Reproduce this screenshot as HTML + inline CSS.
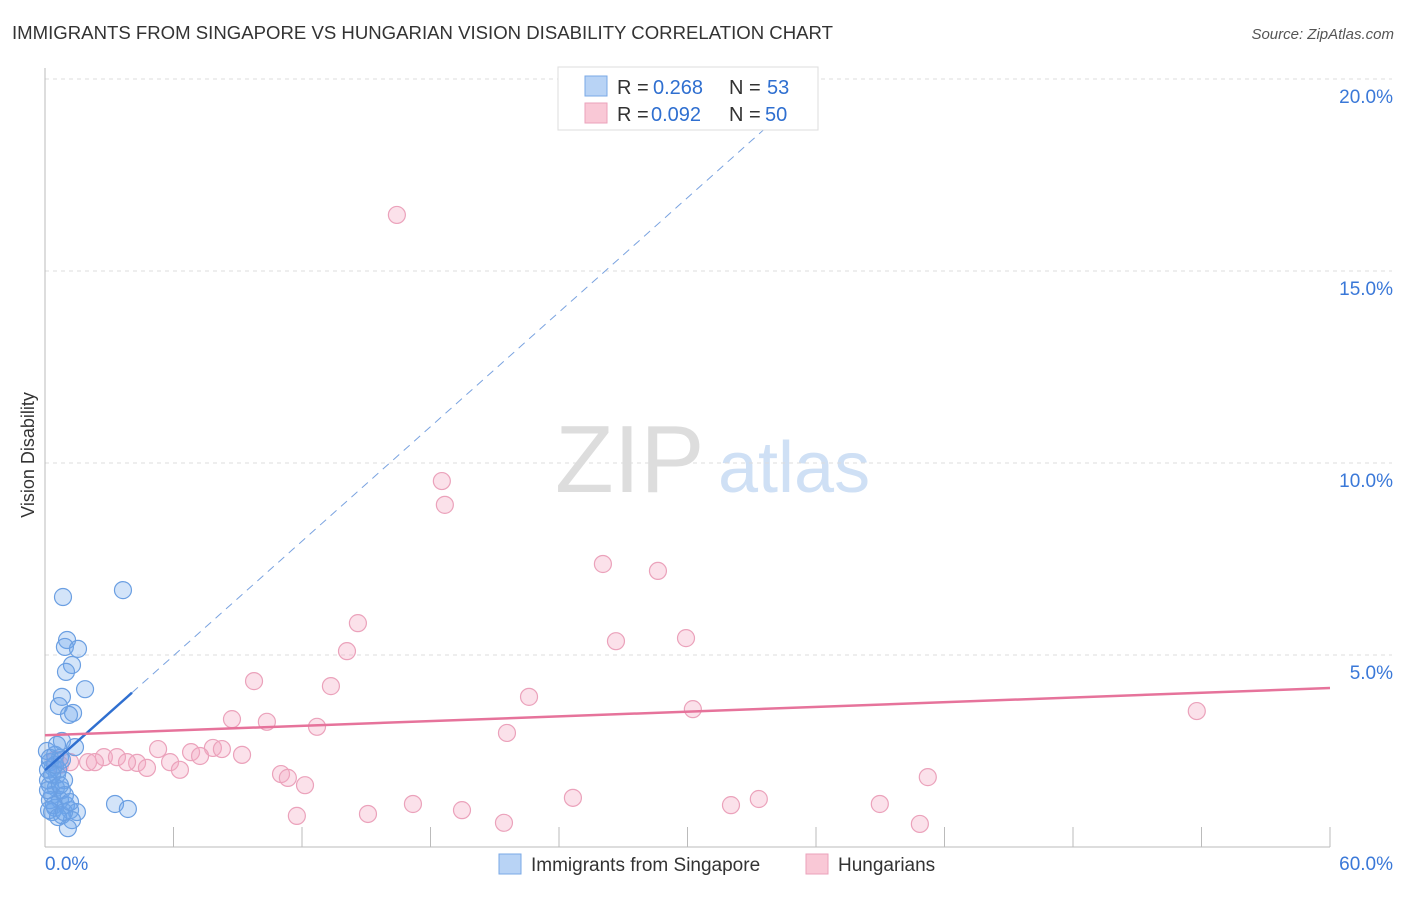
<!DOCTYPE html>
<html><head><meta charset="utf-8"><style>
body{margin:0;background:#fff;font-family:"Liberation Sans",sans-serif;}
svg text{font-family:"Liberation Sans",sans-serif;}
</style></head><body>
<svg width="1406" height="892" xmlns="http://www.w3.org/2000/svg">
<text x="12" y="39" font-size="18" fill="#333" textLength="821" lengthAdjust="spacingAndGlyphs">IMMIGRANTS FROM SINGAPORE VS HUNGARIAN VISION DISABILITY CORRELATION CHART</text>
<text x="1394" y="39" font-size="15" fill="#555" text-anchor="end" font-style="italic">Source: ZipAtlas.com</text>
<text x="555" y="492" font-size="96" fill="#ddd" font-family="Liberation Serif">ZIP</text>
<text x="718" y="492" font-size="72" fill="#cfe0f5">atlas</text>
<text transform="translate(34,455) rotate(-90)" font-size="18" fill="#333" text-anchor="middle">Vision Disability</text>
<g id="grid"></g>
<g id="axes"></g>
<g id="marks"></g>
<g>
<rect x="558" y="67" width="260" height="63" fill="#fff" stroke="#ddd"/>
<rect x="585" y="76" width="22" height="20" fill="#b8d3f5" stroke="#7aa8e6"/>
<rect x="585" y="103" width="22" height="20" fill="#f9c8d6" stroke="#eba2bb"/>
<text y="94" font-size="20" fill="#333"><tspan x="617">R =</tspan><tspan x="653" fill="#2f6fd0">0.268</tspan><tspan x="729">N =</tspan><tspan x="767" fill="#2f6fd0">53</tspan></text>
<text y="121" font-size="20" fill="#333"><tspan x="617">R =</tspan><tspan x="651" fill="#2f6fd0">0.092</tspan><tspan x="729">N =</tspan><tspan x="765" fill="#2f6fd0">50</tspan></text>
</g>
<g>
<rect x="499" y="854" width="22" height="20" fill="#b8d3f5" stroke="#7aa8e6"/>
<text x="531" y="871" font-size="19" fill="#333">Immigrants from Singapore</text>
<rect x="806" y="854" width="22" height="20" fill="#f9c8d6" stroke="#eba2bb"/>
<text x="838" y="871" font-size="19" fill="#333">Hungarians</text>
</g>
</svg>
<script>
const blueX=[0.84,3.64,1.03,0.93,1.54,1.26,0.98,1.87,0.79,0.65,1.31,1.12,0.79,1.40,0.09,0.47,0.70,0.23,0.37,0.14,0.56,0.89,0.23,0.51,0.79,0.33,0.70,0.98,0.47,1.17,1.49,0.33,0.79,1.26,1.07,3.27,3.87,0.14,0.23,0.61,0.33,0.47,0.14,0.70,0.93,0.23,0.56,0.79,0.42,0.19,0.61,0.89,1.17];
const blueY=[6.51,6.69,5.39,5.21,5.16,4.74,4.56,4.11,3.91,3.67,3.49,3.44,2.76,2.60,2.50,2.40,2.32,2.21,2.08,2.01,1.88,1.74,1.61,1.54,1.48,1.35,1.22,1.09,1.02,0.96,0.91,0.91,0.83,0.70,0.49,1.12,0.99,1.74,1.22,2.01,1.88,2.14,1.48,1.61,1.35,2.32,2.66,2.27,1.09,0.96,0.78,0.91,1.17];
const pinkX=[16.43,18.53,18.67,26.05,28.62,14.61,26.66,29.93,14.10,9.76,13.35,22.60,30.25,53.78,8.73,10.36,12.70,21.57,5.28,6.82,7.84,8.26,9.20,2.75,3.36,2.01,2.33,4.30,3.83,4.76,5.84,6.30,7.24,1.17,0.70,0.47,11.02,11.34,12.14,41.22,24.65,17.18,33.33,32.03,38.98,19.47,11.76,15.08,21.43,40.85];
const pinkY=[16.46,9.53,8.91,7.37,7.19,5.83,5.36,5.44,5.10,4.32,4.19,3.91,3.59,3.54,3.33,3.26,3.13,2.97,2.55,2.47,2.58,2.55,2.40,2.34,2.34,2.21,2.21,2.19,2.21,2.06,2.21,2.01,2.37,2.21,2.14,2.27,1.90,1.80,1.61,1.82,1.28,1.12,1.25,1.09,1.12,0.96,0.81,0.86,0.63,0.60];
const yTicks=[5,10,15,20];
const yTickLabels=["5.0%","10.0%","15.0%","20.0%"];
const xTicks=[6,12,18,24,30,36,42,48,54,60];
const blueTrend=[2.0,0.497,4.06,36.2];
const pinkTrend=[2.91,4.14];
const NS="http://www.w3.org/2000/svg";
const sx=v=>45+v*1285/60, sy=v=>847-v*38.4;
function mk(tag,attrs,parent){const e=document.createElementNS(NS,tag);for(const k in attrs)e.setAttribute(k,attrs[k]);document.getElementById(parent).appendChild(e);return e;}
yTicks.forEach((t,i)=>{
 const l=mk('line',{x1:45,x2:1392,y1:sy(t),y2:sy(t),stroke:'#ddd','stroke-dasharray':'4,4'},'grid');
 
 
 const tx=mk('text',{x:1393,y:sy(t)+24,'font-size':19,fill:'#3a78d8','text-anchor':'end'},'grid');
 tx.textContent=yTickLabels[i];
 
 
});
let ax=mk('line',{x1:45,x2:45,y1:68,y2:847,stroke:'#bbb'},'axes');


ax=mk('line',{x1:45,x2:1330,y1:847,y2:847,stroke:'#bbb'},'axes');


xTicks.forEach(t=>{const l=mk('line',{x1:sx(t),x2:sx(t),y1:827,y2:847,stroke:'#bbb'},'axes');
 
 });
let t0=mk('text',{x:45,y:870,'font-size':19,fill:'#3a78d8'},'axes');t0.textContent='0.0%';


t0=mk('text',{x:1393,y:870,'font-size':19,fill:'#3a78d8','text-anchor':'end'},'axes');t0.textContent='60.0%';


pinkX.forEach((x,i)=>{const c=mk('circle',{cx:sx(x),cy:sy(pinkY[i]),r:8.5,fill:'rgba(244,170,195,0.35)',stroke:'#eba2bb','stroke-width':1.2},'marks');
 
 });
blueX.forEach((x,i)=>{const c=mk('circle',{cx:sx(x),cy:sy(blueY[i]),r:8.5,fill:'rgba(110,165,235,0.3)',stroke:'#6b9fe2','stroke-width':1.2},'marks');
 
 });
const [bi,bs,be,bd]=blueTrend;
let tl=mk('line',{x1:sx(be),y1:sy(bi+bs*be),x2:sx(bd),y2:sy(bi+bs*bd),stroke:'#7aa3e0','stroke-width':1,'stroke-dasharray':'8,6'},'marks');


tl=mk('line',{x1:sx(0),y1:sy(bi),x2:sx(be),y2:sy(bi+bs*be),stroke:'#2f6fd0','stroke-width':2.5},'marks');


tl=mk('line',{x1:sx(0),y1:sy(pinkTrend[0]),x2:sx(60),y2:sy(pinkTrend[1]),stroke:'#e6739b','stroke-width':2.5},'marks');


</script>
</body></html>
